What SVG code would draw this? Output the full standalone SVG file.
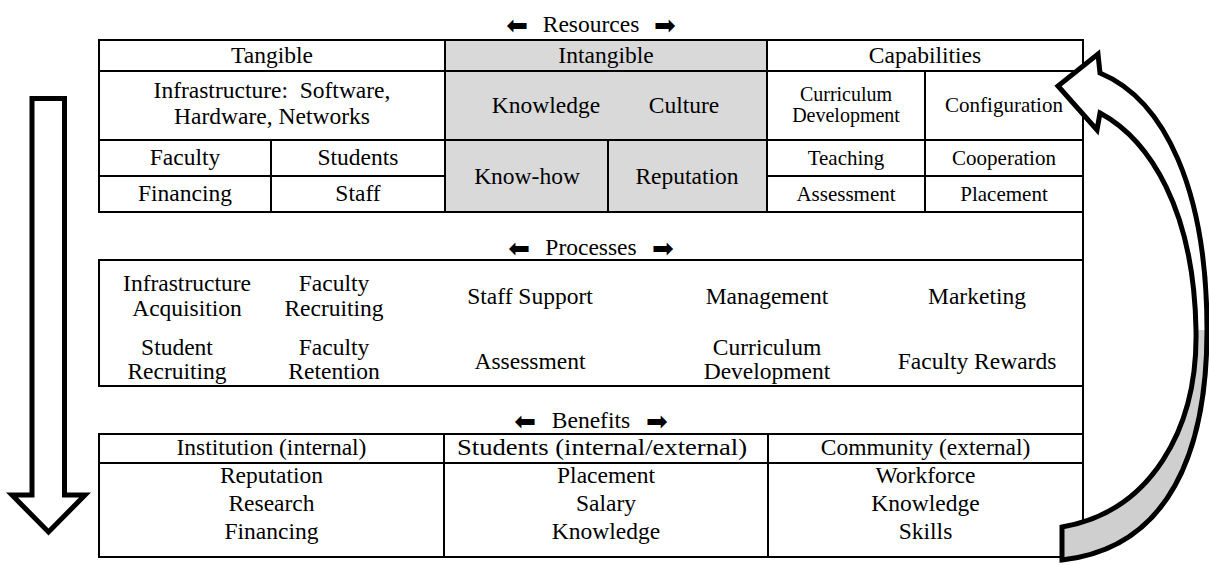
<svg xmlns="http://www.w3.org/2000/svg" width="1209" height="565" viewBox="0 0 1209 565">
<style>
.t{font-family:"Liberation Serif","Times New Roman",serif;font-size:23.5px;fill:#000;text-anchor:middle}
.s{font-size:21px}
.xs{font-size:20px}
.ln{stroke:#000;stroke-width:2;fill:none}
.ar{font-family:"DejaVu Sans",sans-serif;font-size:26px;fill:#000}
.al{text-anchor:end}
.big{stroke:#000;stroke-width:5;stroke-linejoin:miter}
</style>
<rect width="1209" height="565" fill="#fff"/>

<g id="resources-label">
<text class="ar al" x="528" y="34">⬅</text>
<text class="t" x="591" y="32">Resources</text>
<text class="ar" x="654" y="34">➡</text>
</g>

<g id="intangible">
<rect x="445" y="40" width="322" height="172" fill="#d9d9d9"/>
</g>

<g id="table-lines">
<path class="ln" d="M98,40H1083M98,71H1083M98,140H1083M98,176H445M767,176H1083M98,212H1083M99,40V212M445,40V212M767,40V212M271,140V212M608,140V212M925,71V212M1083,39V557"/>
<path class="ln" d="M98,260H1083M98,386H1083M99,260V386"/>
<path class="ln" d="M98,434H1083M98,463H1083M98,557H1083M99,434V557M444,434V557M768,434V557"/>
</g>

<g id="tangible">
<text class="t" x="272" y="63">Tangible</text>
<text class="t" x="272" y="97.5">Infrastructure:&#160; Software,</text>
<text class="t" x="272" y="124">Hardware, Networks</text>
<text class="t" x="185" y="165">Faculty</text>
<text class="t" x="358" y="165">Students</text>
<text class="t" x="185" y="201">Financing</text>
<text class="t" x="358" y="201">Staff</text>
</g>

<g id="intangible-text">
<text class="t" x="606" y="63">Intangible</text>
<text class="t" x="546" y="113">Knowledge</text>
<text class="t" x="684" y="113">Culture</text>
<text class="t" x="527" y="184">Know-how</text>
<text class="t" x="687" y="184">Reputation</text>
</g>

<g id="capabilities">
<text class="t" x="925" y="63">Capabilities</text>
<text class="t xs" x="846" y="101">Curriculum</text>
<text class="t xs" x="846" y="122">Development</text>
<text class="t s" x="1004" y="112">Configuration</text>
<text class="t s" x="846" y="165">Teaching</text>
<text class="t s" x="1004" y="165">Cooperation</text>
<text class="t s" x="846" y="201">Assessment</text>
<text class="t s" x="1004" y="201">Placement</text>
</g>

<g id="processes">
<text class="ar al" x="530" y="257">⬅</text>
<text class="t" x="591" y="255">Processes</text>
<text class="ar" x="652" y="257">➡</text>
<text class="t" x="187" y="290.5">Infrastructure</text>
<text class="t" x="187" y="315.5">Acquisition</text>
<text class="t" x="334" y="290.5">Faculty</text>
<text class="t" x="334" y="315.5">Recruiting</text>
<text class="t" x="530" y="304">Staff Support</text>
<text class="t" x="767" y="304">Management</text>
<text class="t" x="977" y="304">Marketing</text>
<text class="t" x="177" y="354.5">Student</text>
<text class="t" x="177" y="378.5">Recruiting</text>
<text class="t" x="334" y="354.5">Faculty</text>
<text class="t" x="334" y="378.5">Retention</text>
<text class="t" x="530" y="369">Assessment</text>
<text class="t" x="767" y="354.5">Curriculum</text>
<text class="t" x="767" y="378.5">Development</text>
<text class="t" x="977" y="369">Faculty Rewards</text>
</g>

<g id="benefits">
<text class="ar al" x="536" y="430">⬅</text>
<text class="t" x="591" y="428">Benefits</text>
<text class="ar" x="646" y="430">➡</text>
<text class="t" x="271.5" y="455">Institution (internal)</text>
<text class="t" x="602" y="455" textLength="290" lengthAdjust="spacingAndGlyphs">Students (internal/external)</text>
<text class="t" x="925.5" y="455">Community (external)</text>
<text class="t" x="271.5" y="482.5">Reputation</text>
<text class="t" x="271.5" y="510.5">Research</text>
<text class="t" x="271.5" y="538.5">Financing</text>
<text class="t" x="606" y="482.5">Placement</text>
<text class="t" x="606" y="510.5">Salary</text>
<text class="t" x="606" y="538.5">Knowledge</text>
<text class="t" x="925.5" y="482.5">Workforce</text>
<text class="t" x="925.5" y="510.5">Knowledge</text>
<text class="t" x="925.5" y="538.5">Skills</text>
</g>

<g id="connectors">
<path class="big" fill="#fff" d="M32,98.5H64.5V495H85L48.5,532L12,495H32Z"/>
<path fill="#fff" d="M1100,73C1165,100 1207,190 1207,330C1207,450 1170,548 1062,560L1062,527C1150,512 1198,430 1196,330C1194,210 1150,140 1100,113L1097,130L1058,86L1098,54Z"/>
<path fill="#cfcfcf" d="M1207,330C1207,450 1170,548 1062,560L1062,527C1150,512 1198,430 1196,330Z"/>
<path class="big" fill="none" d="M1100,73C1165,100 1207,190 1207,330C1207,450 1170,548 1062,560L1062,527C1150,512 1198,430 1196,330C1194,210 1150,140 1100,113L1097,130L1058,86L1098,54Z"/>
</g>
</svg>
